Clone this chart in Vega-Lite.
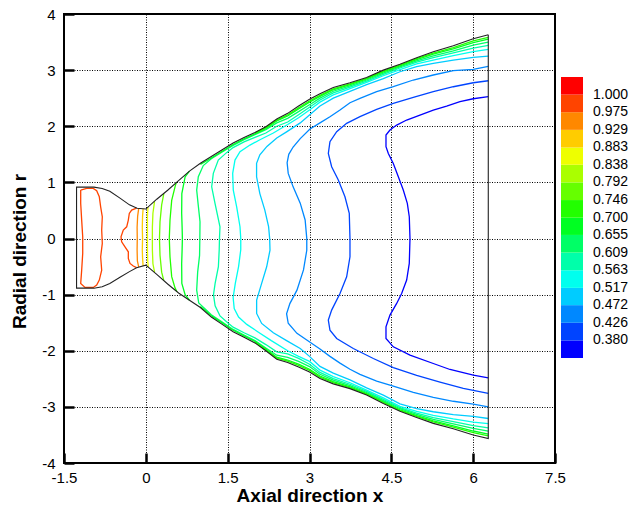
{
  "$schema": "https://vega.github.io/schema/vega-lite/v6.json",
  "width": 491,
  "height": 449,
  "autosize": {"type": "none"},
  "padding": {"left": 64, "top": 14, "right": 76, "bottom": 46},
  "background": "white",
  "config": {
    "font": "Liberation Sans",
    "view": {"stroke": "black", "strokeWidth": 2},
    "axis": {
      "labelFont": "Liberation Sans", "labelFontSize": 15, "labelColor": "black",
      "titleFont": "Liberation Sans", "titleFontSize": 19, "titleFontWeight": "bold", "titleColor": "black",
      "grid": true, "gridColor": "#000000", "gridDash": [1, 1.5], "gridWidth": 1, "gridOpacity": 1,
      "tickSize": -10, "tickWidth": 2.5, "tickColor": "black", "domain": false,
      "labelFlush": false, "labelOverlap": false
    }
  },
  "datasets": {
    "contours": [
      {"id": "A", "level": 0.334,
       "x": [6.277,6.002,5.758,5.514,5.269,5.025,4.781,4.598,4.475,4.402,4.402,4.445,4.536,4.628,4.719,4.793,4.829,4.842,4.829,4.781,4.689,4.598,4.475,4.402,4.402,4.536,4.842,5.269,5.575,6.002,6.277],
       "y": [2.526,2.49,2.437,2.36,2.289,2.2,2.111,2.021,1.932,1.843,1.635,1.516,1.338,1.1,0.863,0.626,0.387,0.0,-0.444,-0.741,-0.979,-1.157,-1.365,-1.574,-1.781,-1.93,-2.078,-2.227,-2.334,-2.435,-2.483]},
      {"id": "B", "level": 0.380,
       "x": [6.277,6.002,5.636,5.269,4.903,4.536,4.231,3.925,3.681,3.498,3.375,3.345,3.406,3.528,3.65,3.729,3.742,3.742,3.681,3.559,3.406,3.345,3.375,3.498,3.803,4.17,4.536,4.964,5.392,5.819,6.277],
       "y": [2.811,2.775,2.704,2.615,2.515,2.408,2.301,2.17,2.052,1.902,1.724,1.516,1.278,1.041,0.743,0.447,0.0,-0.326,-0.683,-0.979,-1.276,-1.454,-1.633,-1.781,-1.96,-2.138,-2.30,-2.44,-2.56,-2.67,-2.761]},
      {"id": "C", "level": 0.426,
       "x": [6.277,6.002,5.636,5.269,4.903,4.536,4.231,3.925,3.742,3.559,3.375,3.192,3.009,2.83,2.70,2.62,2.59,2.61,2.70,2.83,2.92,2.95,2.95,2.89,2.77,2.64,2.58,2.61,2.77,2.95,3.192,3.375,3.559,3.742,3.925,4.231,4.536,4.903,5.269,5.636,6.002,6.277],
       "y": [3.068,3.014,2.99,2.913,2.824,2.704,2.615,2.497,2.419,2.289,2.17,2.06,1.95,1.78,1.63,1.50,1.35,1.16,0.92,0.63,0.33,0,-0.21,-0.56,-0.92,-1.16,-1.34,-1.51,-1.69,-1.81,-1.97,-2.10,-2.22,-2.33,-2.42,-2.54,-2.63,-2.74,-2.83,-2.90,-2.95,-3.0]},
      {"id": "D", "level": 0.472,
       "x": [6.277,6.002,5.636,5.269,4.964,4.658,4.353,4.047,3.742,3.436,3.192,3.0,2.83,2.58,2.40,2.22,2.09,2.03,2.03,2.09,2.18,2.25,2.27,2.276,2.215,2.123,2.031,2.031,2.123,2.337,2.58,2.83,3.0,3.192,3.436,3.742,4.047,4.353,4.658,4.964,5.269,5.636,6.002,6.277],
       "y": [3.251,3.228,3.18,3.12,3.062,2.971,2.85,2.74,2.62,2.50,2.36,2.20,2.06,1.90,1.79,1.64,1.49,1.34,1.10,0.80,0.51,0.21,0,-0.207,-0.504,-0.8,-1.098,-1.335,-1.513,-1.68,-1.82,-1.96,-2.10,-2.278,-2.40,-2.52,-2.66,-2.79,-2.946,-3.03,-3.087,-3.137,-3.168,-3.207]},
      {"id": "E", "level": 0.517,
       "x": [6.277,6.002,5.636,5.269,4.964,4.658,4.353,4.047,3.742,3.436,3.192,3.0,2.8,2.6,2.337,2.092,1.909,1.726,1.634,1.592,1.603,1.665,1.726,1.74,1.74,1.70,1.64,1.60,1.62,1.70,1.85,2.05,2.3,2.6,2.8,3.0,3.192,3.436,3.742,4.047,4.353,4.658,4.964,5.269,5.636,6.002,6.277],
       "y": [3.37,3.33,3.26,3.18,3.11,3.01,2.90,2.78,2.67,2.56,2.43,2.29,2.15,2.03,1.88,1.76,1.665,1.546,1.397,1.16,0.863,0.565,0.21,0,-0.2,-0.5,-0.8,-1.05,-1.25,-1.40,-1.53,-1.66,-1.82,-2.00,-2.10,-2.19,-2.345,-2.46,-2.57,-2.70,-2.84,-2.99,-3.08,-3.15,-3.215,-3.27,-3.30]},
      {"id": "F", "level": 0.563,
       "x": [6.277,6.002,5.636,5.269,4.964,4.658,4.353,4.047,3.742,3.436,3.192,3.0,2.8,2.6,2.4,2.2,2.0,1.8,1.6,1.48,1.328,1.237,1.207,1.268,1.359,1.35,1.345,1.33,1.27,1.24,1.27,1.36,1.5,1.6,1.8,2.0,2.2,2.4,2.6,2.8,3.0,3.192,3.436,3.742,4.047,4.353,4.658,4.964,5.269,5.636,6.002,6.277],
       "y": [3.441,3.394,3.306,3.223,3.142,3.038,2.925,2.805,2.697,2.595,2.468,2.34,2.205,2.075,2.00,1.88,1.80,1.72,1.62,1.53,1.397,1.16,0.922,0.626,0.208,0,-0.2,-0.5,-0.8,-1.0,-1.2,-1.38,-1.5,-1.58,-1.68,-1.77,-1.89,-2.02,-2.055,-2.135,-2.24,-2.386,-2.495,-2.597,-2.725,-2.865,-3.013,-3.11,-3.19,-3.263,-3.334,-3.374]},
      {"id": "G", "level": 0.609,
       "x": [6.277,6.002,5.636,5.269,4.964,4.658,4.353,4.047,3.742,3.436,3.192,3.0,2.8,2.6,2.4,2.2,2.0,1.8,1.6,1.4,1.2,1.053,0.962,0.932,0.96,0.993,0.99,0.985,0.95,0.932,0.97,1.2,1.4,1.6,1.8,2.0,2.2,2.4,2.6,2.8,3.0,3.192,3.436,3.742,4.047,4.353,4.658,4.964,5.269,5.636,6.002,6.277],
       "y": [3.498,3.444,3.344,3.255,3.166,3.058,2.948,2.824,2.721,2.624,2.501,2.382,2.26,2.14,2.06,1.94,1.85,1.76,1.66,1.54,1.42,1.30,1.1,0.863,0.6,0.3,0,-0.3,-0.6,-0.92,-1.15,-1.36,-1.49,-1.62,-1.72,-1.82,-1.95,-2.08,-2.12,-2.19,-2.282,-2.419,-2.524,-2.621,-2.744,-2.888,-3.033,-3.134,-3.222,-3.301,-3.384,-3.431]},
      {"id": "H", "level": 0.655,
       "x": [0.8,0.72,0.66,0.657,0.665,0.67,0.665,0.657,0.66,0.72,0.8],
       "y": [1.2,1.1,0.8,0.45,0.2,0,-0.2,-0.45,-0.8,-1.0,-1.1]},
      {"id": "H2u", "level": 0.655,
       "x": [1.0,1.2,1.4,1.6,1.8,2.0,2.2,2.4,2.6,2.8,3.0,3.192,3.436,3.742,4.047,4.353,4.658,4.964,5.269,5.636,6.002,6.277],
       "y": [1.32,1.435,1.555,1.675,1.775,1.865,1.96,2.095,2.185,2.31,2.43,2.532,2.65,2.742,2.843,2.969,3.077,3.188,3.284,3.38,3.49,3.551]},
      {"id": "H2l", "level": 0.655,
       "x": [1.0,1.2,1.4,1.6,1.8,2.0,2.2,2.4,2.6,2.8,3.0,3.192,3.436,3.742,4.047,4.353,4.658,4.964,5.269,5.636,6.002,6.277],
       "y": [-1.21,-1.375,-1.505,-1.635,-1.735,-1.835,-1.97,-2.115,-2.165,-2.24,-2.33,-2.45,-2.55,-2.642,-2.763,-2.909,-3.052,-3.156,-3.251,-3.337,-3.43,-3.484]},
      {"id": "I", "level": 0.700,
       "x": [0.56,0.535,0.474,0.443,0.43,0.443,0.474,0.535,0.57],
       "y": [1.0,0.92,0.68,0.33,0,-0.33,-0.68,-0.88,-0.95]},
      {"id": "I2u", "level": 0.700,
       "x": [2.0,2.2,2.4,2.6,2.8,3.0,3.192,3.436,3.742,4.047,4.353,4.658,4.964,5.269,5.636,6.002,6.277],
       "y": [1.878,1.975,2.11,2.205,2.33,2.45,2.551,2.667,2.756,2.854,2.982,3.089,3.203,3.302,3.403,3.52,3.585]},
      {"id": "I2l", "level": 0.700,
       "x": [2.0,2.2,2.4,2.6,2.8,3.0,3.192,3.436,3.742,4.047,4.353,4.658,4.964,5.269,5.636,6.002,6.277],
       "y": [-1.848,-1.985,-2.13,-2.185,-2.26,-2.35,-2.469,-2.567,-2.656,-2.774,-2.922,-3.064,-3.171,-3.269,-3.36,-3.46,-3.518]},
      {"id": "J", "level": 0.746, "x": [0.33,0.29,0.26,0.25,0.26,0.29,0.33], "y": [0.8,0.6,0.3,0,-0.3,-0.6,-0.75]},
      {"id": "K", "level": 0.792, "x": [0.16,0.13,0.12,0.12,0.12,0.13,0.16], "y": [0.66,0.45,0.2,0,-0.2,-0.45,-0.6]},
      {"id": "L", "level": 0.838, "x": [0.04,0.03,0.03,0.03,0.03,0.035,0.045], "y": [0.56,0.4,0.2,0,-0.2,-0.4,-0.51]},
      {"id": "M", "level": 0.883, "x": [-0.05,-0.06,-0.065,-0.06,-0.065,-0.06,-0.05], "y": [0.53,0.4,0.2,0,-0.2,-0.35,-0.49]},
      {"id": "N", "level": 0.929, "x": [-0.13,-0.15,-0.16,-0.157,-0.16,-0.155,-0.13], "y": [0.54,0.4,0.2,0,-0.2,-0.4,-0.51]},
      {"id": "O", "level": 0.975,
       "x": [-0.17,-0.26,-0.303,-0.321,-0.351,-0.413,-0.455,-0.443,-0.382,-0.321,-0.321,-0.29,-0.23,-0.17],
       "y": [0.54,0.506,0.447,0.328,0.208,0.15,0.03,-0.059,-0.148,-0.237,-0.355,-0.444,-0.49,-0.52]},
      {"id": "loop", "level": 0.975,
       "x": [-1.194,-1.084,-0.963,-0.901,-0.853,-0.828,-0.798,-0.809,-0.798,-0.828,-0.809,-0.853,-0.901,-0.963,-1.115,-1.194,-1.176,-1.157,-1.157,-1.176,-1.194,-1.194],
       "y": [0.863,0.893,0.893,0.85,0.743,0.565,0.387,0.15,-0.088,-0.326,-0.563,-0.741,-0.831,-0.872,-0.872,-0.8,-0.563,-0.266,0.03,0.328,0.626,0.863]}
    ],
    "wall": [
      {"id": "wall",
       "x": [6.277,6.002,5.636,5.269,4.964,4.658,4.353,4.047,3.742,3.436,3.192,3.0,2.8,2.6,2.4,2.2,2.0,1.8,1.6,1.4,1.2,1.0,0.8,0.6,0.4,0.2,0.0,-0.16,-0.3,-0.474,-0.66,-0.8,-0.95,-1.27,-1.27,-0.95,-0.8,-0.66,-0.474,-0.3,-0.17,0.0,0.2,0.4,0.6,0.8,1.0,1.2,1.4,1.6,1.8,2.0,2.2,2.4,2.6,2.8,3.0,3.192,3.436,3.742,4.047,4.353,4.658,4.964,5.269,5.636,6.002,6.277,6.277],
       "y": [3.631,3.56,3.433,3.327,3.222,3.105,3.00,2.87,2.775,2.69,2.577,2.48,2.36,2.23,2.13,1.99,1.89,1.80,1.70,1.58,1.46,1.34,1.20,1.03,0.86,0.70,0.525,0.54,0.60,0.72,0.84,0.89,0.915,0.915,-0.885,-0.885,-0.86,-0.80,-0.69,-0.59,-0.52,-0.475,-0.64,-0.81,-0.97,-1.10,-1.23,-1.40,-1.53,-1.66,-1.76,-1.86,-2.00,-2.15,-2.21,-2.29,-2.38,-2.495,-2.59,-2.675,-2.79,-2.94,-3.08,-3.19,-3.294,-3.39,-3.50,-3.564,3.631]}
    ]
  },
  "layer": [
    {
      "data": {"name": "contours"},
      "transform": [
        {"flatten": ["x", "y"]},
        {"window": [{"op": "row_number", "as": "o"}], "groupby": ["id"]}
      ],
      "mark": {"type": "line", "strokeWidth": 1.3, "clip": true},
      "encoding": {
        "x": {"field": "x", "type": "quantitative",
              "scale": {"domain": [-1.5, 7.5], "nice": false, "zero": false},
              "axis": {"values": [-1.5, 0, 1.5, 3, 4.5, 6, 7.5], "labelExpr": "'' + datum.value",
                       "title": "Axial direction x", "labelPadding": 17, "titleY": 38, "titleBaseline": "alphabetic"}},
        "y": {"field": "y", "type": "quantitative",
              "scale": {"domain": [-4, 4], "nice": false, "zero": false},
              "axis": {"values": [-4, -3, -2, -1, 0, 1, 2, 3, 4], "labelExpr": "'' + datum.value",
                       "title": "Radial direction r", "labelPadding": 19,
                       "titleX": -45, "titleY": 237, "titleAlign": "center", "titleBaseline": "middle", "titleAngle": -90}},
        "detail": {"field": "id"},
        "order": {"field": "o", "type": "quantitative"},
        "color": {
          "field": "level", "type": "quantitative",
          "scale": {"type": "threshold",
                    "domain": [0.380, 0.426, 0.472, 0.517, 0.563, 0.609, 0.655, 0.700, 0.746, 0.792, 0.838, 0.883, 0.929, 0.975, 1.021],
                    "range": ["#0000FF", "#0044FF", "#0088FF", "#00CCFF", "#00FFEE", "#00FFAA", "#00FF66", "#00FF22", "#22FF00", "#66FF00", "#AAFF00", "#EEFF00", "#FFCC00", "#FF8800", "#FF4400", "#FF0000"]},
          "legend": {
            "type": "gradient", "direction": "vertical", "orient": "none",
            "legendX": 497, "legendY": 63, "padding": 0,
            "gradientLength": 281, "gradientThickness": 22, "gradientStrokeWidth": 0,
            "title": null, "labelFontSize": 14, "labelColor": "black", "labelFont": "Liberation Sans",
            "labelOffset": 10, "labelOverlap": false,
            "labelExpr": "isFinite(datum.value) ? (datum.value > 1 ? '1.000' : format(datum.value, '.3f')) : ''"
          }
        }
      }
    },
    {
      "data": {"name": "wall"},
      "transform": [
        {"flatten": ["x", "y"]},
        {"window": [{"op": "row_number", "as": "o"}], "groupby": ["id"]}
      ],
      "mark": {"type": "line", "color": "#222222", "strokeWidth": 1.1},
      "encoding": {
        "x": {"field": "x", "type": "quantitative"},
        "y": {"field": "y", "type": "quantitative"},
        "detail": {"field": "id"},
        "order": {"field": "o", "type": "quantitative"}
      }
    }
  ]
}
